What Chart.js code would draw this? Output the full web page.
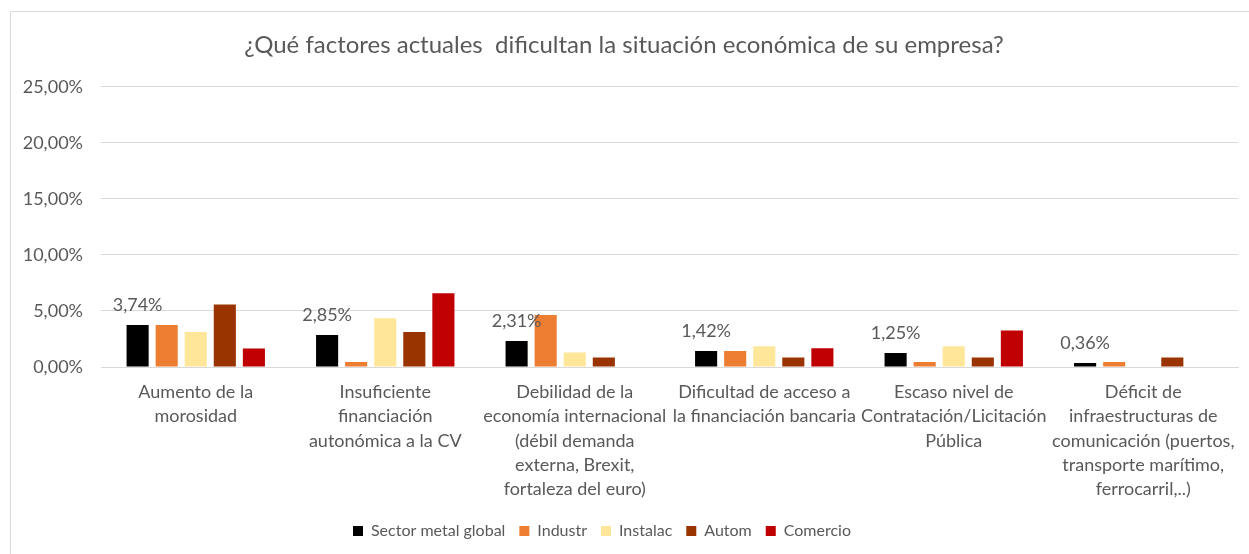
<!DOCTYPE html>
<html>
<head>
<meta charset="utf-8">
<script src="https://cdn.jsdelivr.net/npm/chart.js@4"></script>
<style>
  body { margin: 0; background: #fff; }
  #wrap { width: 1249px; height: 554px; position: relative; }
</style>
</head>
<body>
<div id="wrap"><canvas id="grafico"></canvas></div>
<script>
const categorias = [
    ["Aumento de la", "morosidad"],
    ["Insuficiente", "financiación", "autonómica a la CV"],
    ["Debilidad de la", "economía internacional", "(débil demanda", "externa, Brexit,", "fortaleza del euro)"],
    ["Dificultad de acceso a", "la financiación bancaria"],
    ["Escaso nivel de", "Contratación/Licitación", "Pública"],
    ["Déficit de", "infraestructuras de", "comunicación (puertos,", "transporte marítimo,", "ferrocarril,..)"],
];
const series = ["Sector metal global", "Industr", "Instalac", "Autom", "Comercio"];
const sectorMetal = [3.74, 2.85, 2.31, 1.42, 1.25, 0.36];
const industr = [3.74, 0.45, 4.64, 1.42, 0.45, 0.45];
const instalac = [3.13, 4.35, 1.29, 1.85, 1.85, 0];
const autom = [5.57, 3.13, 0.84, 0.84, 0.84, 0.84];
const comercio = [1.64, 6.58, 0, 1.67, 3.25, 0];
const colores = ["#000000", "#ED7D31", "#FFE699", "#993300", "#C00000"];
const ticksY = [0, 5, 10, 15, 20, 25];

const gris = "#595959";
const fuente = "Lato, 'Liberation Sans', sans-serif";
const fmt = (v) => v.toFixed(2).replace(".", ",") + "%";

// etiqueta solo en la primera serie, como en el original
const etiquetas = {
    id: "etiquetas",
    afterDatasetsDraw(chart) {
        const ctx = chart.ctx;
        const meta = chart.getDatasetMeta(0);
        ctx.save();
        ctx.font = "18px " + fuente;
        ctx.fillStyle = gris;
        ctx.textAlign = "center";
        ctx.textBaseline = "alphabetic";
        meta.data.forEach((bar, i) => {
            ctx.fillText(fmt(sectorMetal[i]), bar.x, bar.y - 14);
        });
        ctx.restore();
    },
};

const marco = {
    id: "marco",
    beforeDraw(chart) {
        const ctx = chart.ctx;
        ctx.save();
        ctx.fillStyle = "#fff";
        ctx.fillRect(0, 0, chart.width, chart.height);
        ctx.strokeStyle = "#d9d9d9";
        ctx.lineWidth = 1;
        ctx.beginPath();
        ctx.moveTo(10.5, chart.height);
        ctx.lineTo(10.5, 11.5);
        ctx.lineTo(chart.width, 11.5);
        ctx.stroke();
        ctx.restore();
    },
};

function generarGrafico() {
    const valores = [sectorMetal, industr, instalac, autom, comercio];
    const info = {
        labels: categorias,
        datasets: series.map((nombre, i) => ({
            label: nombre,
            data: valores[i],
            backgroundColor: colores[i],
            categoryPercentage: 0.767,
            barPercentage: 0.76,
        })),
    };
    const options = {
        responsive: false,
        animation: false,
        layout: { padding: { left: 10, right: 11, top: 10, bottom: 5 } },
        scales: {
            y: {
                min: 0,
                max: 25,
                afterBuildTicks: (scale) => { scale.ticks = ticksY.map((v) => ({ value: v })); },
                afterFit: (scale) => { scale.width = 91; },
                ticks: {
                    padding: 18,
                    color: gris,
                    font: { family: fuente, size: 18 },
                    callback: (v) => fmt(v),
                },
                grid: { color: "#d9d9d9", drawTicks: false },
                border: { display: false },
            },
            x: {
                afterFit: (scale) => { scale.height = 142; },
                ticks: {
                    color: gris,
                    font: { family: fuente, size: 18, lineHeight: 1.35 },
                    maxRotation: 0,
                    autoSkip: false,
                    padding: 13,
                },
                grid: { display: false, drawTicks: false },
                border: { color: "#d9d9d9" },
            },
        },
        plugins: {
            title: {
                display: true,
                text: "¿Qué factores actuales  dificultan la situación económica de su empresa?",
                color: gris,
                font: { family: fuente, size: 24, weight: "normal", lineHeight: 1.2 },
                padding: { top: 21, bottom: 27 },
            },
            legend: {
                position: "bottom",
                labels: {
                    color: gris,
                    font: { family: fuente, size: 16 },
                    boxWidth: 10,
                    boxHeight: 10,
                    padding: 14,
                },
            },
            tooltip: { enabled: false },
        },
    };
    const canvas = document.getElementById("grafico");
    canvas.width = 1249;
    canvas.height = 554;
    const grafico = new Chart(canvas, { type: "bar", data: info, options, plugins: [marco, etiquetas] });

    // la leyenda del original no está centrada, se corre un poco a la izquierda
    const leyenda = grafico.legend;
    const dibujar = leyenda.draw.bind(leyenda);
    leyenda.draw = function () {
        grafico.ctx.save();
        grafico.ctx.translate(-22, 0);
        dibujar();
        grafico.ctx.restore();
    };
    grafico.draw();
}
generarGrafico();
</script>
</body>
</html>
